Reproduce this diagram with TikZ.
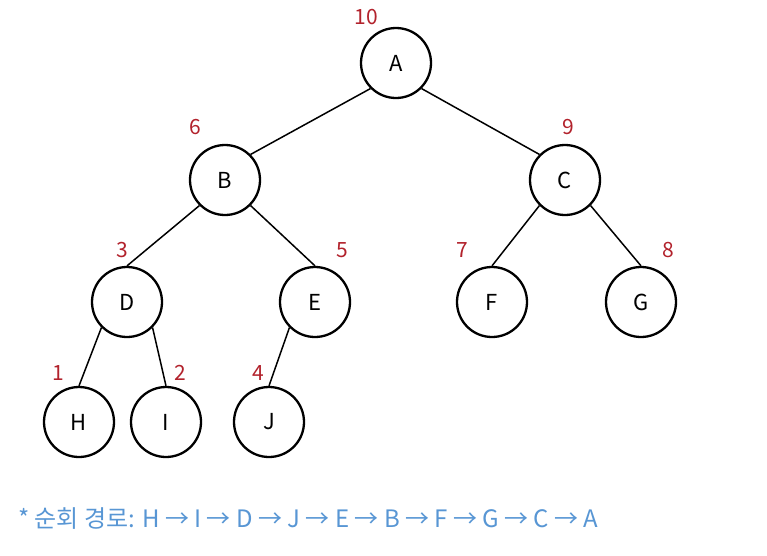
\documentclass[tikz,border=0pt]{standalone}
\usepackage{fontspec}
\setmainfont{Noto Sans CJK KR}
\usepackage{tikz}
\usetikzlibrary{arrows.meta, positioning}

\definecolor{ordred}{RGB}{178,34,44}
\definecolor{pathblue}{RGB}{88,150,212}

\begin{document}
\begin{tikzpicture}[
  x=1pt, y=-1pt,
  vtx/.style={draw, circle, line width=2.3pt, minimum size=70pt,
              inner sep=0pt, font=\fontsize{22}{24}\selectfont},
  ord/.style={text=ordred, font=\fontsize{21}{23}\selectfont, inner sep=0pt},
  edge/.style={line width=1.5pt}
]
  \useasboundingbox (0,0) rectangle (767,555);

  % tree
  \node[vtx] (A) at (396, 63) {A};
  \node[vtx] (B) at (225,180) {B};
  \node[vtx] (C) at (565,180) {C};
  \node[vtx] (D) at (127,302) {D};
  \node[vtx] (E) at (315,302) {E};
  \node[vtx] (F) at (492,302) {F};
  \node[vtx] (G) at (641,302) {G};
  \node[vtx] (H) at ( 79,422) {H};
  \node[vtx] (I) at (166,422) {I};
  \node[vtx] (J) at (269,422) {J};

  \draw[edge] (A.south west) -- (B.north east);
  \draw[edge] (A.south east) -- (C.north west);
  \draw[edge] (B.south west) -- (D.north);
  \draw[edge] (B.south east) -- (E.north);
  \draw[edge] (C.south west) -- (F.north);
  \draw[edge] (C.south east) -- (G.north);
  \draw[edge] (D.south west) -- (H.north);
  \draw[edge] (D.south east) -- (I.north);
  \draw[edge] (E.south west) -- (J.north);

  % visiting order
  \node[ord] (oA) at (366, 17) {10};
  \node[ord] (oB) at (195,127) {6};
  \node[ord] (oC) at (568,127) {9};
  \node[ord] (oD) at (122,250) {3};
  \node[ord] (oE) at (342,250) {5};
  \node[ord] (oF) at (462,250) {7};
  \node[ord] (oG) at (668,250) {8};
  \node[ord] (oH) at ( 58,373) {1};
  \node[ord] (oI) at (180,373) {2};
  \node[ord] (oJ) at (258,373) {4};

  \node[anchor=west, text=pathblue, inner sep=0pt,
        font=\fontsize{24}{26}\selectfont] (route) at (18,518)
    {* 순회 경로: H → I → D → J → E → B → F → G → C → A};
\end{tikzpicture}
\end{document}
